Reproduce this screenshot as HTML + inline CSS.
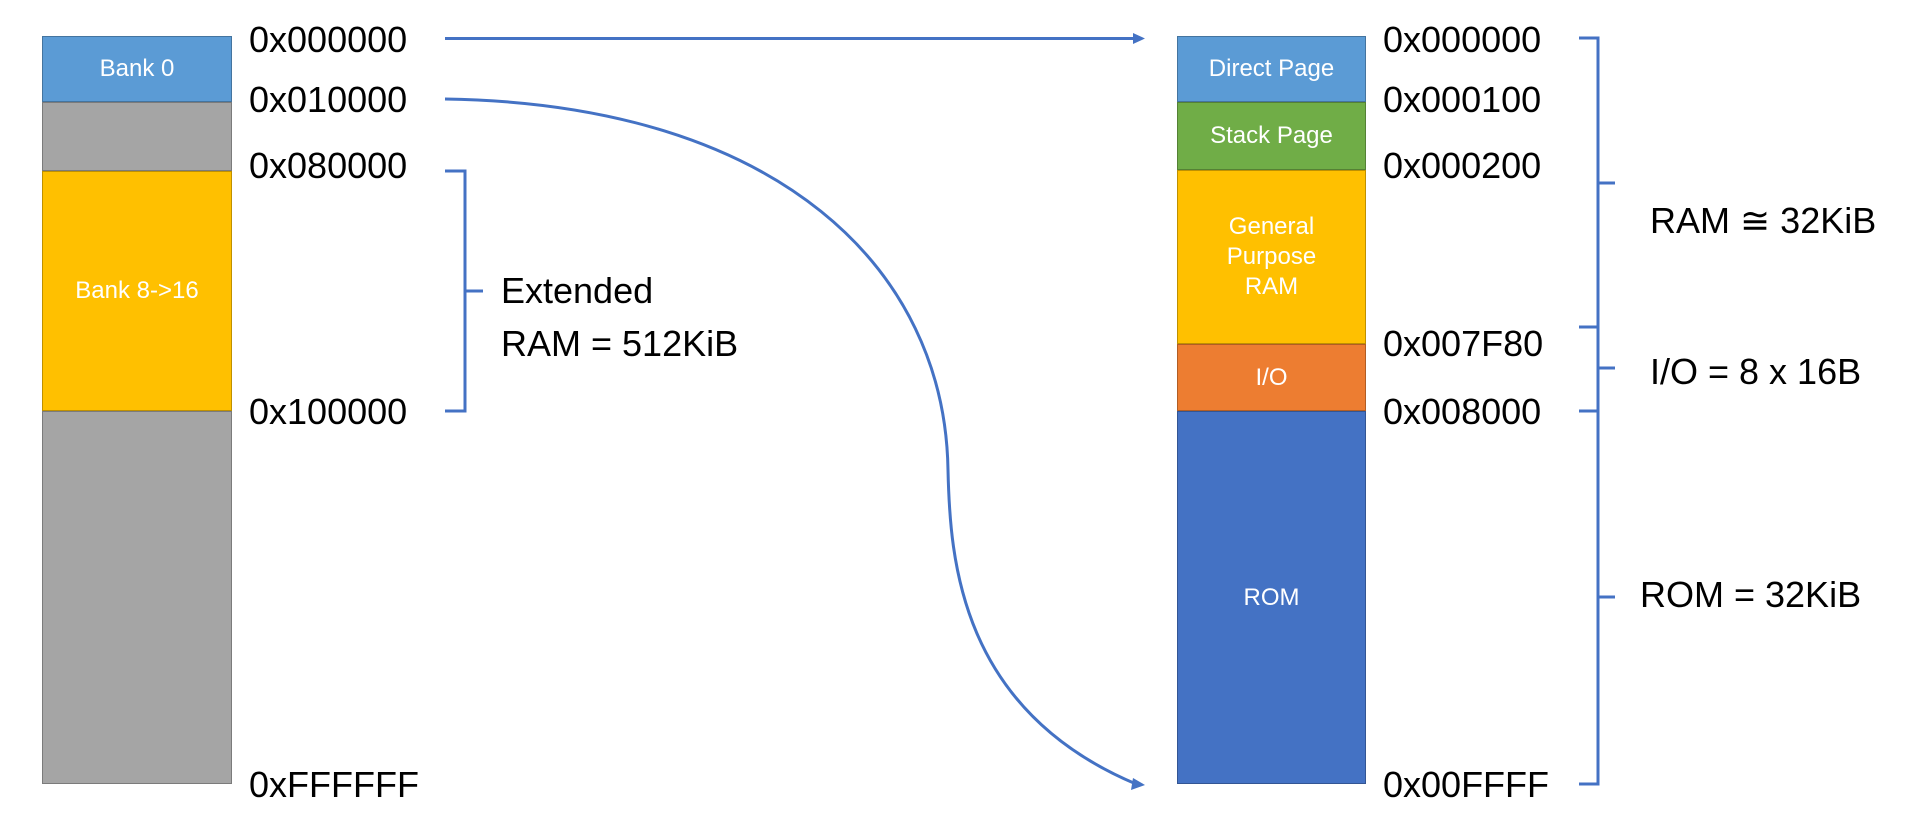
<!DOCTYPE html>
<html><head><meta charset="utf-8"><style>
body{margin:0;background:#fff;width:1906px;height:836px;overflow:hidden;position:relative;font-family:"Liberation Sans",sans-serif}
.b{position:absolute;box-sizing:border-box;border:1.5px solid rgba(0,0,0,0.25);color:#fff;font-size:24px;display:flex;align-items:center;justify-content:center;text-align:center;line-height:30px}
.t{position:absolute;font-size:36px;color:#000;line-height:40px;white-space:nowrap}
</style></head><body>
<div class="b" style="left:42px;top:36px;width:190px;height:66px;background:#5B9BD5">Bank 0</div>
<div class="b" style="left:42px;top:102px;width:190px;height:69px;background:#A5A5A5"></div>
<div class="b" style="left:42px;top:171px;width:190px;height:240px;background:#FFC000">Bank 8-&gt;16</div>
<div class="b" style="left:42px;top:411px;width:190px;height:373px;background:#A5A5A5"></div>

<div class="b" style="left:1177px;top:36px;width:189px;height:66px;background:#5B9BD5">Direct Page</div>
<div class="b" style="left:1177px;top:102px;width:189px;height:68px;background:#70AD47">Stack Page</div>
<div class="b" style="left:1177px;top:170px;width:189px;height:174px;background:#FFC000">General<br>Purpose<br>RAM</div>
<div class="b" style="left:1177px;top:344px;width:189px;height:67px;background:#ED7D31">I/O</div>
<div class="b" style="left:1177px;top:411px;width:189px;height:373px;background:#4472C4">ROM</div>

<div class="t" style="left:249px;top:20px">0x000000</div>
<div class="t" style="left:249px;top:80px">0x010000</div>
<div class="t" style="left:249px;top:146px">0x080000</div>
<div class="t" style="left:249px;top:392px">0x100000</div>
<div class="t" style="left:249px;top:765px">0xFFFFFF</div>
<div class="t" style="left:501px;top:271px">Extended</div>
<div class="t" style="left:501px;top:324px">RAM = 512KiB</div>

<div class="t" style="left:1383px;top:20px">0x000000</div>
<div class="t" style="left:1383px;top:80px">0x000100</div>
<div class="t" style="left:1383px;top:146px">0x000200</div>
<div class="t" style="left:1383px;top:324px">0x007F80</div>
<div class="t" style="left:1383px;top:392px">0x008000</div>
<div class="t" style="left:1383px;top:765px">0x00FFFF</div>
<div class="t" style="left:1650px;top:201px">RAM ≅ 32KiB</div>
<div class="t" style="left:1650px;top:352px">I/O = 8 x 16B</div>
<div class="t" style="left:1640px;top:575px">ROM = 32KiB</div>

<svg width="1906" height="836" style="position:absolute;left:0;top:0" fill="none" stroke="#4472C4" stroke-width="3">
<line x1="445" y1="38.5" x2="1136" y2="38.5"/>
<polygon points="1145,38.5 1133,33 1133,44" fill="#4472C4" stroke="none"/>
<path d="M445,99 C780,104 945,270 948,470 C950,560 960,710 1136,784"/>
<polygon points="1145,785 1133,778 1131,790" fill="#4472C4" stroke="none"/>
<path d="M445,171 H465 V291 H483 M465,291 V411 H445"/>
<path d="M1579,38 H1598 V183 H1615 M1598,183 V327 H1579 M1598,327 V368 H1615 M1598,368 V411 H1579 M1598,411 V597 H1615 M1598,597 V784 H1579"/>
</svg>
</body></html>
